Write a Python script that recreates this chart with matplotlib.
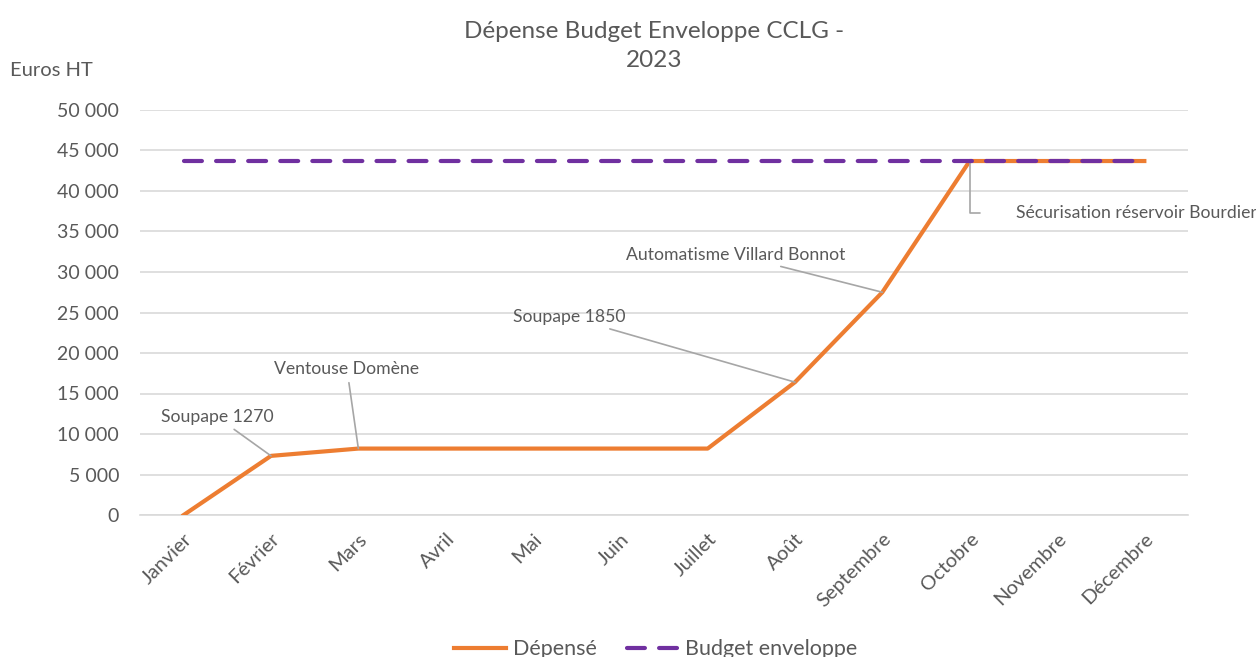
import numpy as np
import matplotlib.pyplot as plt

# data
mois = ["Janvier", "Février", "Mars", "Avril", "Mai", "Juin", "Juillet",
        "Août", "Septembre", "Octobre", "Novembre", "Décembre"]
depense = [0, 7300, 8200, 8200, 8200, 8200, 8200, 16400, 27500, 43700, 43700, 43700]
budget = [43700] * 12

# (label, month index, text x, text y, ha, connection style, shrinkA)
notes = [("Soupape 1270", 1, 0.38, 12100, "center", "arc3", 2),
         ("Ventouse Domène", 2, 1.87, 18000, "center", "arc3", 2),
         ("Soupape 1850", 7, 4.42, 24400, "center", "arc3", 2),
         ("Automatisme Villard Bonnot", 8, 6.32, 32100, "center", "arc3", 2),
         ("Sécurisation réservoir Bourdier", 9, 9.53, 37300, "left",
          "angle,angleA=0,angleB=90,rad=0", 24)]

plt.rcParams["font.family"] = ["Lato", "DejaVu Sans"]
grey = "#595959"

fig = plt.figure(figsize=(12.56, 6.57), dpi=100)
ax = fig.add_axes([140 / 1256, 1 - 515 / 657, 1048 / 1256, 405 / 657])

x = np.arange(len(mois))
ax.plot(x, depense, color="#ED7D31", lw=3, label="Dépensé", zorder=3)
ax.plot(x, budget, color="#7030A0", lw=3, ls=(0, (4.3, 3.4)),
        dash_capstyle="round", label="Budget enveloppe", zorder=4)

ax.set_xlim(-0.5, 11.5)
ax.set_ylim(0, 50000)
ax.set_yticks(np.arange(0, 50001, 5000))
ax.set_yticklabels(["0"] + ["{:,}".format(v).replace(",", " ") for v in range(5000, 50001, 5000)])
ax.set_xticks(x)
ax.set_xticklabels(mois, rotation=45, ha="right", rotation_mode="anchor")
ax.tick_params(axis="both", length=0, labelsize=14, labelcolor=grey)
ax.tick_params(axis="y", pad=15)
ax.tick_params(axis="x", labelsize=14.5, pad=11)
ax.grid(axis="y", color="#d9d9d9", lw=1.2)
ax.set_axisbelow(True)
for s in ["top", "right", "left"]:
    ax.spines[s].set_visible(False)
ax.spines["bottom"].set_color("#d9d9d9")
ax.spines["bottom"].set_linewidth(1.2)

for txt, i, tx, ty, ha, cs, sa in notes:
    ax.annotate(txt, xy=(i, depense[i]), xytext=(tx, ty), ha=ha, va="center",
                fontsize=12.7, color=grey,
                arrowprops=dict(arrowstyle="-", color="#a6a6a6", lw=1.2,
                                connectionstyle=cs, shrinkA=sa, shrinkB=0))

fig.text(654 / 1256, 1 - 46 / 657, "Dépense Budget Enveloppe CCLG -\n2023",
         ha="center", va="center", fontsize=17.5, color=grey, linespacing=1.45)
fig.text(10 / 1256, 1 - 71 / 657, "Euros HT", ha="left", va="center",
         fontsize=14.5, color=grey)

leg = fig.legend(loc="center", bbox_to_anchor=(0.522, 0.012), ncol=2, frameon=False,
                 fontsize=15.5, handlelength=2.4, columnspacing=1.4, handletextpad=0.3)
for t in leg.get_texts():
    t.set_color(grey)

fig.savefig("out.png", dpi=100)
